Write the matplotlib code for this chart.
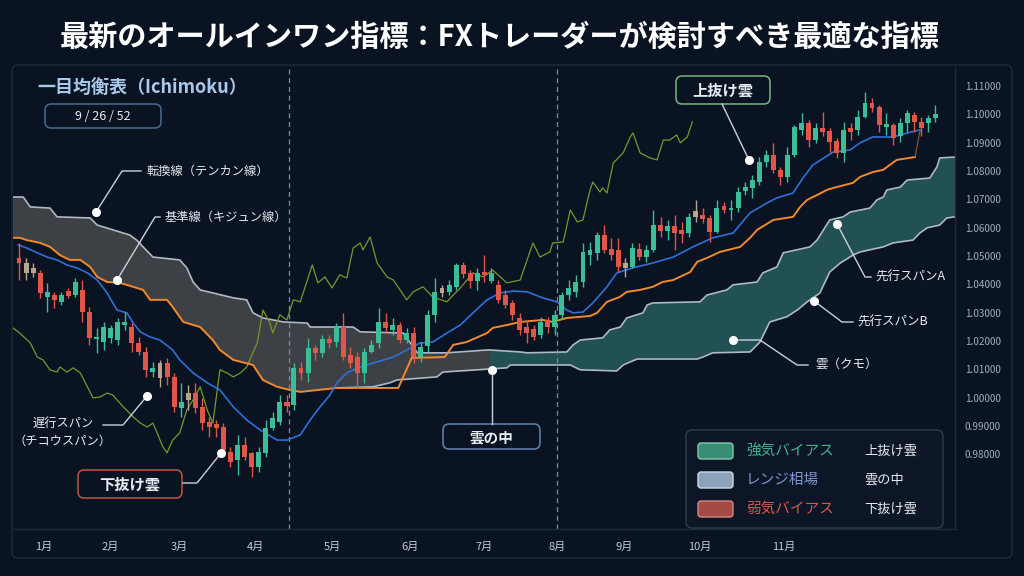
import matplotlib.pyplot as plt
import matplotlib.patches as mpatches
from matplotlib.lines import Line2D
import numpy as np

plt.rcParams['font.family'] = ['Noto Sans CJK JP', 'DejaVu Sans']

# ---- data ----
opens = [1.0493, 1.0475, 1.0458, 1.0440, 1.0355, 1.0362, 1.0338, 1.0376, 1.0362, 1.0380,
         1.0302, 1.0207, 1.0196, 1.0211, 1.0203, 1.0256, 1.0249, 1.0193, 1.0161, 1.0090,
         1.0122, 1.0122, 1.0073, 0.9963, 1.0016, 1.0016, 0.9967, 0.9914, 0.9907, 0.9896,
         0.9808, 0.9780, 0.9833, 0.9805, 0.9755, 0.9805, 0.9893, 0.9914, 0.9985, 0.9974,
         1.0105, 1.0087, 1.0175, 1.0158, 1.0207, 1.0196, 1.0249, 1.0150, 1.0143, 1.0087,
         1.0161, 1.0193, 1.0267, 1.0239, 1.0256, 1.0203, 1.0228, 1.0143, 1.0182, 1.0292,
         1.0387, 1.0373, 1.0391, 1.0468, 1.0440, 1.0412, 1.0443, 1.0412, 1.0398, 1.0362,
         1.0334, 1.0281, 1.0249, 1.0242, 1.0221, 1.0274, 1.0249, 1.0292, 1.0362, 1.0373,
         1.0408, 1.0503, 1.0511, 1.0574, 1.0525, 1.0521, 1.0475, 1.0461, 1.0525, 1.0496,
         1.0521, 1.0609, 1.0588, 1.0606, 1.0592, 1.0581, 1.0638, 1.0645, 1.0634, 1.0585,
         1.0676, 1.0662, 1.0669, 1.0729, 1.0740, 1.0761, 1.0832, 1.0856, 1.0804, 1.0779,
         1.0856, 1.0945, 1.0969, 1.0909, 1.0952, 1.0941, 1.0906, 1.0864, 1.0952, 1.0945,
         1.0991, 1.1040, 1.1026, 1.0955, 1.0962, 1.0924, 1.0969, 1.0998, 1.0973, 1.0969,
         1.0987]
highs = [1.0546, 1.0493, 1.0475, 1.0450, 1.0405, 1.0373, 1.0373, 1.0387, 1.0422, 1.0415,
         1.0320, 1.0246, 1.0267, 1.0256, 1.0281, 1.0302, 1.0263, 1.0214, 1.0179, 1.0126,
         1.0133, 1.0140, 1.0087, 1.0052, 1.0045, 1.0052, 0.9999, 0.9932, 0.9921, 0.9910,
         0.9826, 0.9868, 0.9861, 0.9808, 0.9826, 0.9921, 0.9949, 1.0009, 1.0009, 1.0122,
         1.0126, 1.0211, 1.0186, 1.0221, 1.0221, 1.0263, 1.0299, 1.0179, 1.0161, 1.0175,
         1.0203, 1.0316, 1.0299, 1.0281, 1.0267, 1.0246, 1.0249, 1.0196, 1.0309, 1.0422,
         1.0398, 1.0415, 1.0475, 1.0479, 1.0450, 1.0458, 1.0503, 1.0458, 1.0415, 1.0380,
         1.0345, 1.0299, 1.0274, 1.0256, 1.0285, 1.0285, 1.0309, 1.0373, 1.0415, 1.0433,
         1.0546, 1.0549, 1.0585, 1.0609, 1.0564, 1.0564, 1.0493, 1.0546, 1.0546, 1.0539,
         1.0662, 1.0638, 1.0627, 1.0645, 1.0620, 1.0652, 1.0698, 1.0669, 1.0645, 1.0698,
         1.0691, 1.0698, 1.0743, 1.0761, 1.0786, 1.0849, 1.0874, 1.0899, 1.0814, 1.0885,
         1.0962, 1.1005, 1.0980, 1.0969, 1.1008, 1.0952, 1.0917, 1.0973, 1.0969, 1.1015,
         1.1079, 1.1058, 1.1033, 1.1005, 1.0969, 1.0987, 1.1015, 1.1008, 1.0991, 1.0998,
         1.1033]
lows = [1.0415, 1.0415, 1.0426, 1.0352, 1.0302, 1.0316, 1.0327, 1.0352, 1.0355, 1.0267,
        1.0186, 1.0158, 1.0168, 1.0193, 1.0186, 1.0239, 1.0161, 1.0150, 1.0073, 1.0073,
        1.0038, 1.0045, 0.9949, 0.9932, 0.9956, 0.9946, 0.9886, 0.9861, 0.9861, 0.9805,
        0.9755, 0.9727, 0.9780, 0.9720, 0.9737, 0.9790, 0.9886, 0.9903, 0.9949, 0.9956,
        1.0062, 1.0055, 1.0133, 1.0143, 1.0175, 1.0179, 1.0133, 1.0105, 1.0034, 1.0052,
        1.0158, 1.0175, 1.0228, 1.0221, 1.0193, 1.0193, 1.0122, 1.0126, 1.0161, 1.0267,
        1.0355, 1.0362, 1.0380, 1.0422, 1.0387, 1.0380, 1.0408, 1.0405, 1.0334, 1.0316,
        1.0274, 1.0221, 1.0193, 1.0203, 1.0211, 1.0228, 1.0221, 1.0281, 1.0345, 1.0355,
        1.0391, 1.0468, 1.0486, 1.0511, 1.0486, 1.0443, 1.0426, 1.0458, 1.0486, 1.0479,
        1.0514, 1.0567, 1.0556, 1.0521, 1.0546, 1.0567, 1.0620, 1.0616, 1.0549, 1.0581,
        1.0652, 1.0627, 1.0655, 1.0715, 1.0705, 1.0750, 1.0814, 1.0793, 1.0750, 1.0761,
        1.0849, 1.0927, 1.0885, 1.0899, 1.0924, 1.0867, 1.0846, 1.0832, 1.0909, 1.0927,
        1.0987, 1.1008, 1.0938, 1.0927, 1.0892, 1.0902, 1.0938, 1.0938, 1.0924, 1.0938,
        1.0973]
closes = [1.0475, 1.0440, 1.0440, 1.0369, 1.0373, 1.0345, 1.0362, 1.0359, 1.0408, 1.0302,
          1.0211, 1.0214, 1.0249, 1.0246, 1.0267, 1.0267, 1.0193, 1.0161, 1.0098, 1.0105,
          1.0069, 1.0073, 0.9967, 0.9985, 0.9992, 0.9963, 0.9910, 0.9896, 0.9893, 0.9815,
          0.9773, 0.9833, 0.9790, 0.9755, 0.9808, 0.9893, 0.9928, 0.9985, 0.9970, 1.0105,
          1.0087, 1.0175, 1.0158, 1.0207, 1.0193, 1.0249, 1.0143, 1.0122, 1.0087, 1.0161,
          1.0186, 1.0267, 1.0246, 1.0256, 1.0203, 1.0228, 1.0143, 1.0179, 1.0292, 1.0373,
          1.0369, 1.0398, 1.0468, 1.0436, 1.0412, 1.0440, 1.0433, 1.0440, 1.0345, 1.0327,
          1.0292, 1.0239, 1.0228, 1.0214, 1.0267, 1.0249, 1.0292, 1.0362, 1.0387, 1.0408,
          1.0514, 1.0521, 1.0574, 1.0521, 1.0503, 1.0461, 1.0458, 1.0528, 1.0496, 1.0521,
          1.0609, 1.0588, 1.0606, 1.0581, 1.0578, 1.0638, 1.0659, 1.0631, 1.0585, 1.0669,
          1.0662, 1.0669, 1.0726, 1.0743, 1.0768, 1.0832, 1.0856, 1.0804, 1.0779, 1.0856,
          1.0955, 1.0969, 1.0909, 1.0952, 1.0938, 1.0902, 1.0864, 1.0945, 1.0938, 1.0991,
          1.1040, 1.1022, 1.0962, 1.0966, 1.0917, 1.0969, 1.1005, 1.0973, 1.0952, 1.0987,
          1.1001]
neutral_candles = [1, 2, 20, 24, 60, 86, 96]   # beige-coloured bodies

# blue line (転換線 style line under price)
blue_x = [-0.1, 1.1, 2.6, 4.0, 5.4, 6.8, 8.2, 9.7, 11.1, 12.5, 13.9, 15.3, 16.2, 17.2, 18.6,
          20.0, 21.8, 22.8, 24.7, 26.7, 28.5, 30.4, 32.3, 34.2, 36.6, 38.0, 39.9, 41.3, 42.7,
          44.1, 45.1, 46.5, 48.4, 50.8, 53.1, 55.0, 56.9, 58.7, 60.7, 62.6, 64.4, 66.4, 68.2,
          70.1, 72.1, 74.3, 76.3, 77.7, 78.6, 80.0, 81.4, 83.4, 84.8, 87.1, 89.9, 92.8, 95.6,
          98.4, 101.3, 103.7, 106.1, 107.5, 109.8, 111.2, 112.6, 115.5, 117.9, 119.3, 121.1,
          124.0, 126.0, 127.8]
blue_y = [1.0539, 1.0528, 1.0511, 1.0496, 1.0486, 1.0468, 1.0458, 1.0440, 1.0415, 1.0369,
          1.0309, 1.0299, 1.0263, 1.0232, 1.0214, 1.0203, 1.0168, 1.0133, 1.0087, 1.0052,
          1.0027, 0.9967, 0.9921, 0.9886, 0.9850, 0.9850, 0.9868, 0.9921, 0.9967, 1.0009,
          1.0052, 1.0087, 1.0108, 1.0126, 1.0143, 1.0168, 1.0193, 1.0196, 1.0228, 1.0256,
          1.0299, 1.0345, 1.0369, 1.0376, 1.0373, 1.0352, 1.0338, 1.0309, 1.0299, 1.0302,
          1.0334, 1.0391, 1.0440, 1.0458, 1.0475, 1.0496, 1.0532, 1.0564, 1.0581, 1.0652,
          1.0687, 1.0705, 1.0722, 1.0775, 1.0821, 1.0867, 1.0874, 1.0899, 1.0920, 1.0920,
          1.0934, 1.0945]

# orange line
orange_x = [-0.85, 0.1, 1.1, 3.0, 4.4, 5.8, 7.2, 8.7, 10.1, 11.1, 12.5, 14.3, 16.2, 17.6,
            18.6, 21.0, 21.8, 23.3, 25.7, 27.5, 28.5, 30.4, 33.2, 34.6, 36.6, 38.4, 39.9,
            45.1, 51.5, 53.8, 55.7, 60.4, 61.6, 63.5, 66.4, 67.2, 69.2, 71.1, 74.3, 75.7,
            77.7, 81.0, 82.0, 83.4, 85.2, 86.2, 88.1, 89.9, 91.3, 92.8, 95.2, 96.2, 97.6,
            99.4, 102.3, 103.7, 104.7, 107.0, 109.8, 110.8, 111.8, 113.2, 114.6, 115.5,
            118.3, 119.3, 121.1, 122.6, 123.5, 124.5, 127.1]
orange_y = [1.0564, 1.0564, 1.0556, 1.0546, 1.0532, 1.0503, 1.0486, 1.0486, 1.0461, 1.0426,
            1.0408, 1.0405, 1.0391, 1.0380, 1.0345, 1.0345, 1.0320, 1.0267, 1.0249, 1.0203,
            1.0168, 1.0133, 1.0115, 1.0062, 1.0038, 1.0027, 1.0020, 1.0034, 1.0034, 1.0034,
            1.0140, 1.0143, 1.0186, 1.0196, 1.0228, 1.0246, 1.0256, 1.0267, 1.0274, 1.0267,
            1.0281, 1.0288, 1.0299, 1.0338, 1.0355, 1.0373, 1.0380, 1.0391, 1.0408, 1.0415,
            1.0443, 1.0479, 1.0493, 1.0514, 1.0532, 1.0564, 1.0592, 1.0627, 1.0638, 1.0673,
            1.0698, 1.0715, 1.0733, 1.0740, 1.0758, 1.0779, 1.0796, 1.0804, 1.0821, 1.0839,
            1.0849]
orange_tail_x = [127.1, 127.8]
orange_tail_y = [1.0849, 1.0941]

# lagging span (chikou)
chikou_x = [-0.85, 0.1, 1.6, 2.6, 3.4, 4.4, 5.4, 5.8, 6.8, 7.7, 8.7, 9.7, 10.5, 11.5, 12.5,
            13.3, 14.8, 16.2, 17.2, 18.2, 19.0, 19.6, 20.4, 21.0, 21.8, 22.8, 23.8, 24.7,
            25.7, 26.7, 27.5, 28.5, 29.5, 30.4, 31.4, 32.3, 33.8, 34.6, 35.6, 36.0, 37.0,
            38.0, 38.9, 39.9, 41.6, 42.4, 43.4, 44.4, 45.5, 46.5, 47.4, 48.4, 48.8, 49.8,
            50.8, 52.2, 53.1, 55.0, 55.9, 57.3, 58.7, 60.7, 61.6, 62.6, 64.4, 65.8, 67.2,
            69.2, 71.1, 72.9, 73.9, 75.3, 75.7, 77.2, 78.2, 79.2, 80.0, 81.0, 81.4, 82.4,
            82.8, 83.4, 84.3, 85.7, 86.7, 87.1, 88.1, 89.5, 90.5, 91.4, 92.3, 93.3, 93.8,
            94.8, 95.5]
chikou_y = [1.0246, 1.0228, 1.0193, 1.0143, 1.0133, 1.0098, 1.0090, 1.0108, 1.0090, 1.0105,
            1.0087, 1.0038, 0.9999, 1.0002, 1.0016, 1.0009, 0.9967, 0.9932, 0.9910, 0.9896,
            0.9910, 0.9875, 0.9826, 0.9805, 0.9850, 0.9875, 0.9956, 0.9992, 1.0038, 0.9956,
            0.9910, 1.0098, 1.0087, 1.0073, 1.0087, 1.0108, 1.0193, 1.0309, 1.0263, 1.0228,
            1.0292, 1.0274, 1.0345, 1.0338, 1.0468, 1.0405, 1.0426, 1.0387, 1.0433, 1.0422,
            1.0528, 1.0546, 1.0521, 1.0567, 1.0475, 1.0426, 1.0415, 1.0345, 1.0373, 1.0391,
            1.0355, 1.0338, 1.0362, 1.0387, 1.0440, 1.0426, 1.0450, 1.0405, 1.0415, 1.0546,
            1.0496, 1.0514, 1.0546, 1.0549, 1.0662, 1.0620, 1.0627, 1.0733, 1.0761, 1.0726,
            1.0740, 1.0722, 1.0828, 1.0864, 1.0920, 1.0934, 1.0864, 1.0846, 1.0839, 1.0909,
            1.0909, 1.0927, 1.0899, 1.0920, 1.0973]

# cloud upper edge
span_top_x = [-0.85, 0.6, 1.6, 4.4, 5.4, 10.1, 11.1, 15.7, 16.7, 17.6, 19.0, 22.8, 23.8, 24.7,
              25.7, 30.4, 32.3, 33.2, 34.6, 37.5, 40.9, 41.3, 47.4, 48.4, 54.5, 56.5, 60.7,
              66.4, 66.8, 71.1, 72.1, 77.7, 78.6, 79.6, 82.8, 83.8, 85.3, 86.2, 88.5, 89.1,
              89.9, 96.6, 97.6, 100.4, 101.3, 104.7, 105.5, 107.5, 108.4, 112.2, 113.2, 115.0,
              116.9, 117.9, 120.7, 121.7, 122.6, 123.1, 125.0, 126.0, 129.2, 130.2, 130.6,
              132.8]
span_top_y = [1.0708, 1.0708, 1.0673, 1.0669, 1.0638, 1.0634, 1.0609, 1.0574, 1.0556, 1.0532,
              1.0496, 1.0486, 1.0458, 1.0408, 1.0380, 1.0352, 1.0345, 1.0299, 1.0281, 1.0267,
              1.0263, 1.0249, 1.0249, 1.0232, 1.0228, 1.0158, 1.0158, 1.0168, 1.0168, 1.0161,
              1.0158, 1.0161, 1.0186, 1.0203, 1.0211, 1.0239, 1.0249, 1.0281, 1.0299, 1.0327,
              1.0334, 1.0338, 1.0362, 1.0380, 1.0398, 1.0408, 1.0440, 1.0461, 1.0511, 1.0532,
              1.0556, 1.0627, 1.0638, 1.0655, 1.0669, 1.0698, 1.0708, 1.0733, 1.0743, 1.0768,
              1.0775, 1.0814, 1.0846, 1.0849]
# cloud lower edge (after the orange line leaves it)
span_low_x = [45.1, 50.2, 52.6, 53.6, 59.3, 60.1, 66.8, 69.2, 69.7, 78.2, 79.6, 84.8, 85.7,
              86.7, 87.7, 96.2, 97.0, 98.4, 103.7, 105.1, 106.5, 108.9, 110.4, 111.8, 113.6,
              115.0, 116.5, 118.3, 119.3, 122.6, 124.0, 126.8, 127.8, 128.8, 130.6, 131.6,
              132.8]
span_low_y = [1.0034, 1.0038, 1.0052, 1.0062, 1.0073, 1.0090, 1.0101, 1.0105, 1.0115, 1.0115,
              1.0098, 1.0094, 1.0115, 1.0126, 1.0136, 1.0136, 1.0143, 1.0158, 1.0161, 1.0196,
              1.0267, 1.0285, 1.0309, 1.0338, 1.0369, 1.0443, 1.0475, 1.0503, 1.0514, 1.0532,
              1.0546, 1.0556, 1.0581, 1.0599, 1.0609, 1.0634, 1.0638]
cloud_switch = 66.8   # grey cloud turns teal here

month_pos = [3.5, 12.9, 22.8, 33.6, 44.5, 55.5, 66.0, 76.3, 85.8, 96.6, 108.5]
month_labels = ['1月', '2月', '3月', '4月', '5月', '6月', '7月', '8月', '9月', '10月', '11月']
event_lines = [38.3, 76.3]
price_ticks = [0.98, 0.99, 1.00, 1.01, 1.02, 1.03, 1.04, 1.05, 1.06, 1.07, 1.08, 1.09, 1.10, 1.11]

legend_names = ['強気バイアス', 'レンジ相場', '弱気バイアス']
legend_notes = ['上抜け雲', '雲の中', '下抜け雲']

# ---- style ----
BG = '#0a1322'
UP = '#3bbd98'
DOWN = '#e0574a'
NEUTRAL = '#b9a58c'
LEADER = '#c9d1da'

W, H = 1024, 576
def fx(px):
    return px / W
def fy(py):
    return 1 - py / H

fig = plt.figure(figsize=(10.24, 5.76), dpi=100, facecolor=BG)
ax = fig.add_axes([fx(13), fy(529), (955 - 13) / W, (529 - 67) / H])
ax.set_facecolor(BG)

# cloud fills
cloud_low_x = [x for x in orange_x if x < 45.1] + span_low_x
cloud_low_y = [y for x, y in zip(orange_x, orange_y) if x < 45.1] + span_low_y

def cloud_poly(lo, hi):
    tx = [x for x in span_top_x if lo <= x <= hi]
    ty = [y for x, y in zip(span_top_x, span_top_y) if lo <= x <= hi]
    bx = [x for x in cloud_low_x if lo <= x <= hi]
    by = [y for x, y in zip(cloud_low_x, cloud_low_y) if lo <= x <= hi]
    return tx + bx[::-1], ty + by[::-1]

gx, gy = cloud_poly(-1, cloud_switch)
ax.fill(gx, gy, color='#4b4c4f', alpha=0.8, lw=0, zorder=1)
tx_, ty_ = cloud_poly(cloud_switch, 140)
ax.fill(tx_, ty_, color='#24575b', alpha=0.9, lw=0, zorder=1)

ax.plot(span_top_x, span_top_y, color='#aeb9c2', lw=1.2, zorder=2)
ax.plot(span_low_x, span_low_y, color='#aeb9c2', lw=1.2, zorder=2)
ax.plot(chikou_x, chikou_y, color='#7a962c', lw=0.9, zorder=2)

for ex in event_lines:
    ax.axvline(ex, color='#7d8a9a', lw=0.9, ls=(0, (4, 3)), zorder=2.5)

ax.plot(orange_x, orange_y, color='#f08a2c', lw=1.4, zorder=3)
ax.plot(orange_tail_x, orange_tail_y, color='#8a5a3a', lw=0.8, zorder=3)
ax.plot(blue_x, blue_y, color='#2f6fd8', lw=1.2, zorder=3)

# candles
for i in range(len(opens)):
    o, h, l, c = opens[i], highs[i], lows[i], closes[i]
    if i in neutral_candles:
        col = NEUTRAL
    elif c >= o:
        col = UP
    else:
        col = DOWN
    ax.vlines(i, l, h, color=col, lw=1.0, zorder=4)
    ax.bar(i, max(abs(c - o), 0.00025), bottom=min(o, c), width=0.7,
           color=col, lw=0, zorder=4)

ax.set_xlim(-0.85, 132.77)
ax.set_ylim(0.9536, 1.1167)
ax.yaxis.tick_right()
ax.set_yticks(price_ticks)
ax.set_yticklabels(['%.5f' % v for v in price_ticks])
ax.set_xticks(month_pos)
ax.set_xticklabels(month_labels)
ax.tick_params(axis='y', length=0, pad=7, labelsize=7.2, labelcolor='#a3adba')
ax.tick_params(axis='x', length=0, pad=9, labelsize=8, labelcolor='#c3cad3')
for s in ['top', 'left']:
    ax.spines[s].set_visible(False)
for s in ['bottom', 'right']:
    ax.spines[s].set_color('#1f2b3b')
    ax.spines[s].set_linewidth(1)

# outer frame
fig.add_artist(mpatches.FancyBboxPatch((fx(12), fy(558)), (1012 - 12) / W, (558 - 65) / H,
               boxstyle='round,pad=0,rounding_size=0.006', mutation_aspect=W / H,
               transform=fig.transFigure, fc='none', ec='#1e2a3a', lw=1))

# title
fig.text(fx(500), fy(37), '最新のオールインワン指標：FXトレーダーが検討すべき最適な指標',
         color='white', fontsize=21, fontweight='bold', ha='center', va='center')

fig.text(fx(37), fy(88), '一目均衡表（Ichimoku）', color='#a9c8ea', fontsize=13,
         fontweight='bold', ha='left', va='center')

def box(x0, y0, x1, y1, ec, fc=BG, lw=1.1):
    fig.add_artist(mpatches.FancyBboxPatch((fx(x0), fy(y1)), (x1 - x0) / W, (y1 - y0) / H,
                   boxstyle='round,pad=0,rounding_size=0.006', mutation_aspect=W / H,
                   transform=fig.transFigure, fc=fc, ec=ec, lw=lw, zorder=6))

def leader(pts, dot=True):
    xs = [fx(p[0]) for p in pts]
    ys = [fy(p[1]) for p in pts]
    fig.add_artist(Line2D(xs, ys, color=LEADER, lw=1, zorder=6))
    if dot:
        fig.add_artist(Line2D([xs[0]], [ys[0]], marker='o', ms=5.5, color='white',
                              mec='white', zorder=7))

def label(x, y, s, size=8.8, ha='left', **kw):
    fig.text(fx(x), fy(y), s, color='#e8ecf0', fontsize=size, ha=ha, va='center',
             zorder=8, **kw)

box(45, 104, 161, 128, '#4b6a8c')
label(103, 116, '9 / 26 / 52', size=9, ha='center')

leader([(96, 212), (122, 171), (141, 171)])
label(147, 171, '転換線（テンカン線）')
leader([(117, 280), (155, 217), (160, 217)])
label(165, 217, '基準線（キジュン線）')
leader([(147, 396), (123, 425), (103, 425)])
label(63, 423, '遅行スパン', ha='center')
label(62, 441, '（チコウスパン）', ha='center')

box(78, 470, 182, 498, '#c4534b')
label(130, 484, '下抜け雲', size=11, ha='center', fontweight='bold')
leader([(221, 453), (197, 483), (183, 483)])

box(443, 424, 540, 449, '#6585ad')
label(491, 437, '雲の中', size=10.5, ha='center', fontweight='bold')
leader([(492, 370), (492, 424)])

box(676, 76, 770, 104, '#78b57e')
label(723, 90, '上抜け雲', size=11, ha='center', fontweight='bold')
leader([(749, 160), (722, 104)])

leader([(837, 224), (865, 277), (871, 277)])
label(875, 277, '先行スパンA', size=9)
leader([(814, 301), (842, 322), (853, 322)])
label(857, 322, '先行スパンB', size=9)
leader([(733, 340), (760, 340), (797, 365), (808, 365)])
label(815, 365, '雲（クモ）', size=9)

# legend panel
box(686, 430, 943, 528, '#2c3a4c', fc='#0c1626')
sw_fc = ['#3a8d75', '#8aa3bb', '#a54b45']
sw_ec = ['#86c8b2', '#cfdbe6', '#d58a82']
name_col = ['#3fb48e', '#7f97cc', '#d9574d']
rows_y = [451, 480, 509]
for k in range(3):
    fig.add_artist(mpatches.FancyBboxPatch((fx(698), fy(rows_y[k] + 8)), 35 / W, 16 / H,
                   boxstyle='round,pad=0,rounding_size=0.003', mutation_aspect=W / H,
                   transform=fig.transFigure, fc=sw_fc[k], ec=sw_ec[k], lw=1, zorder=7))
    fig.text(fx(746), fy(rows_y[k]), legend_names[k], color=name_col[k], fontsize=10.5,
             ha='left', va='center', zorder=8)
    label(864, rows_y[k], legend_notes[k], size=9.5)

fig.savefig('out.png', dpi=100, facecolor=BG)
